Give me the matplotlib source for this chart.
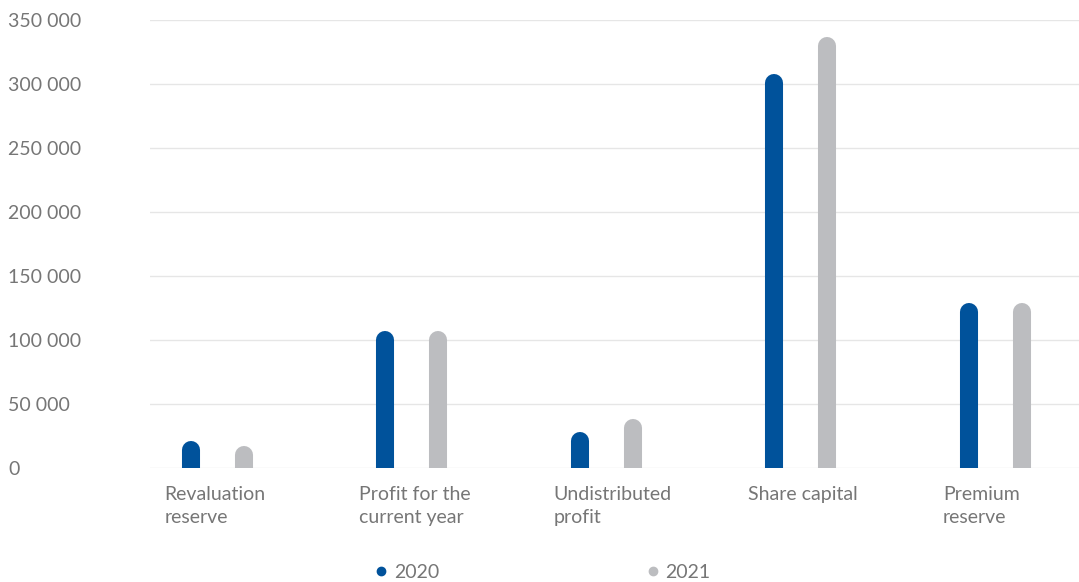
import numpy as np
import matplotlib
matplotlib.use("Agg")
import matplotlib.pyplot as plt
from matplotlib import transforms

# data
categories = ["Revaluation\nreserve", "Profit for the\ncurrent year", "Undistributed\nprofit",
              "Share capital", "Premium\nreserve"]
years = ["2020", "2021"]
values_2020 = [21000, 107000, 28300, 307500, 128700]
values_2021 = [17000, 107000, 38000, 336500, 128700]
yticks = [0, 50000, 100000, 150000, 200000, 250000, 300000, 350000]

colors = ["#00529b", "#bcbdc0"]
text_color = "#767676"

plt.rcParams['font.family'] = ['Lato', 'DejaVu Sans']

fig = plt.figure(figsize=(10.79, 5.82), dpi=100)
ax = fig.add_axes([150 / 1079, 1 - 468 / 582, 1 - 150 / 1079, (468 - 20) / 582])

x = np.arange(len(categories))
offset = 0.136
bar_lw = 13  # points, ~18px wide bars

# shift lines down by half their width so the round cap ends at the value
shifted = transforms.offset_copy(ax.transData, fig=fig, x=0, y=-bar_lw / 2, units='points')

for vals, dx, col in zip([values_2020, values_2021], [-offset, offset], colors):
    for xi, v in zip(x, vals):
        ax.plot([xi + dx, xi + dx], [-50000, v], color=col, lw=bar_lw,
                solid_capstyle='round', transform=shifted, zorder=3)

ax.set_xlim(-0.345, 4.43)
ax.set_ylim(0, 350000)

ax.set_yticks(yticks)
ax.set_yticklabels([f"{t:,}".replace(",", " ") for t in yticks])
ax.yaxis.grid(True, color="#e6e6e6", lw=1)
ax.set_axisbelow(True)
ax.tick_params(axis='y', length=0, pad=102, labelsize=14, labelcolor=text_color)
for lbl in ax.get_yticklabels():
    lbl.set_horizontalalignment('left')

ax.set_xticks([])
for s in ax.spines.values():
    s.set_visible(False)

# category labels, left aligned below each group
for xi, cat in zip(x, categories):
    ax.annotate(cat, xy=(xi - 0.27, 0), xycoords='data', xytext=(0, -13),
                textcoords='offset points', ha='left', va='top', fontsize=14,
                color=text_color, linespacing=1.45)

# legend
handles = [plt.Line2D([], [], marker='o', ls='', color=c, markersize=6) for c in colors]
fig.legend(handles, years, loc='center', bbox_to_anchor=(541 / 1079, 1 - 572 / 582), ncol=2,
           frameon=False, fontsize=14, labelcolor=text_color, handletextpad=0.15,
           columnspacing=10.5, handlelength=1.0)

fig.savefig("out.png", dpi=100)
